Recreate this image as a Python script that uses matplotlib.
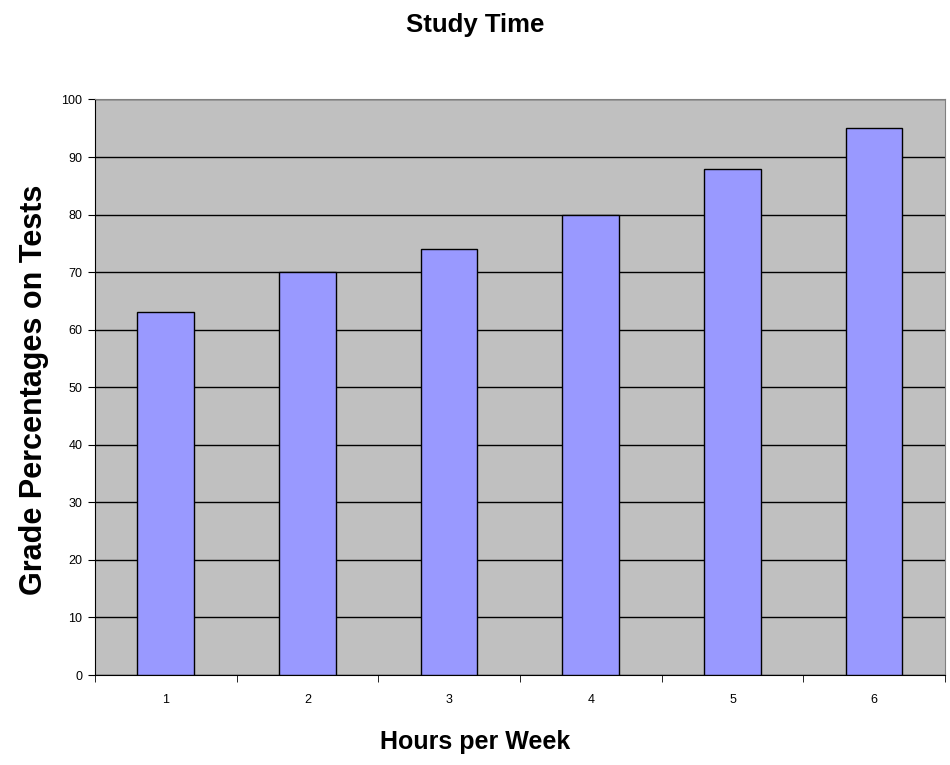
import matplotlib.pyplot as plt
import numpy as np

# data
hours = ["1", "2", "3", "4", "5", "6"]
grades = [63, 70, 74, 80, 88, 95]
y_ticks = [0, 10, 20, 30, 40, 50, 60, 70, 80, 90, 100]

plt.rcParams["font.family"] = ["Liberation Sans", "DejaVu Sans"]

fig = plt.figure(figsize=(9.5, 7.65), dpi=100)
ax = fig.add_axes([0.1, 0.1176, 0.8947, 0.7524])
ax.set_facecolor("#c0c0c0")

x = np.arange(len(hours))
ax.bar(x, grades, width=0.4, color="#9999ff", edgecolor="black", linewidth=1.0, zorder=3)

ax.set_xlim(-0.5, len(hours) - 0.5)
ax.set_ylim(0, 100)
ax.set_yticks(y_ticks)
ax.set_yticklabels([str(v) for v in y_ticks], fontsize=9)
ax.yaxis.grid(True, color="black", linewidth=1.0, zorder=1)
ax.set_axisbelow(True)

# category labels centred, ticks on the boundaries
ax.set_xticks(x)
ax.set_xticklabels(hours, fontsize=9)
ax.tick_params(axis="x", length=0, pad=14)
ax.set_xticks(np.arange(-0.5, len(hours) + 0.5, 1.0), minor=True)
ax.tick_params(axis="x", which="minor", length=5, color="black", direction="out")
ax.tick_params(axis="y", length=5, direction="out", pad=4)

for side in ["top", "right"]:
    ax.spines[side].set_color("#808080")
for side in ["left", "bottom"]:
    ax.spines[side].set_color("black")

fig.text(0.5, 0.967, "Study Time", ha="center", va="center",
         fontsize=18.5, fontweight="bold")
fig.text(0.5, 0.03, "Hours per Week", ha="center", va="center",
         fontsize=18, fontweight="bold")
fig.text(0.036, 0.49, "Grade Percentages on Tests", ha="center", va="center",
         rotation=90, fontsize=22, fontweight="bold")

fig.savefig("out.png", dpi=100)
